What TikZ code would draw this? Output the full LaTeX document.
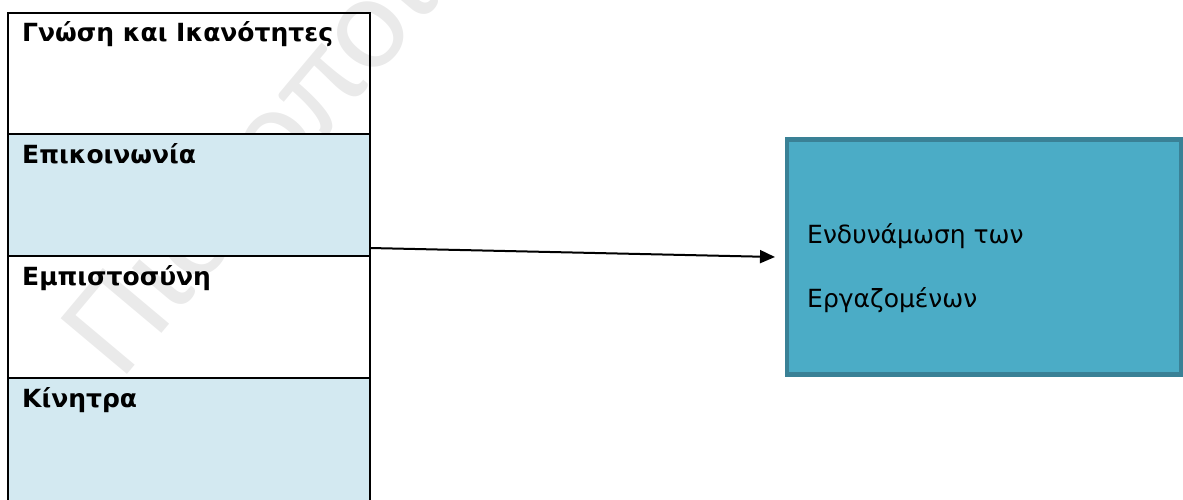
\documentclass[tikz,border=0pt]{standalone}
\usepackage{fontspec}
\setmainfont{DejaVu Sans}
\newfontfamily\wmfont{Carlito}
\usetikzlibrary{calc,arrows.meta}
\definecolor{rowblue}{HTML}{D3E9F1}
\definecolor{boxfill}{HTML}{4BACC6}
\definecolor{boxline}{HTML}{3A8196}
\definecolor{wmgrey}{HTML}{EAEAEA}

\begin{document}
\begin{tikzpicture}[x=1pt,y=-1pt,
  rowcell/.style={draw=black,line width=2.4pt,inner sep=0pt,outer sep=0pt,
    minimum width=362pt,anchor=north west},
  rowlabel/.style={anchor=base west,inner sep=0pt,
    font=\fontsize{25}{30}\selectfont\bfseries},
  boxlabel/.style={anchor=base west,inner sep=0pt,
    font=\fontsize{25}{30}\selectfont},
  linkarrow/.style={draw=black,line width=2pt,
    -{Triangle[length=15pt,width=13pt]}}]
\useasboundingbox (0,0) rectangle (1183,500);
\clip (0,0) rectangle (1183,500);

% faint watermark behind the table
\node[anchor=base west,inner sep=0pt,rotate=50,text=wmgrey,
  font=\wmfont\fontsize{135}{140}\selectfont] (wm) at (121,382) {Πιστοποίηση};

% four-row table
\node[rowcell,minimum height=121pt] (r1) at (8,13) {};
\node[rowcell,minimum height=122pt,fill=rowblue] (r2) at (8,134) {};
\node[rowcell,minimum height=122pt] (r3) at (8,256) {};
\node[rowcell,minimum height=124pt,fill=rowblue] (r4) at (8,378) {};

\node[rowlabel] (t1) at ($(r1.north west)+(14,29)$) {Γνώση και Ικανότητες};
\node[rowlabel] (t2) at ($(r2.north west)+(14,29)$) {Επικοινωνία};
\node[rowlabel] (t3) at ($(r3.north west)+(14,29)$) {Εμπιστοσύνη};
\node[rowlabel] (t4) at ($(r4.north west)+(14,29)$) {Κίνητρα};

% result box
\node[draw=boxline,line width=4.5pt,fill=boxfill,inner sep=0pt,outer sep=0pt,
  minimum width=394pt,minimum height=235pt,anchor=north west] (box) at (787,139.5) {};
\node[boxlabel] (b1) at ($(box.north west)+(20,104)$) {Ενδυνάμωση των};
\node[boxlabel] (b2) at ($(box.north west)+(20,168)$) {Εργαζομένων};

% connector
\draw[linkarrow] ($(r2.south east)+(0,-8)$) -- ($(box.west)+(-12,0)$);
\end{tikzpicture}
\end{document}
